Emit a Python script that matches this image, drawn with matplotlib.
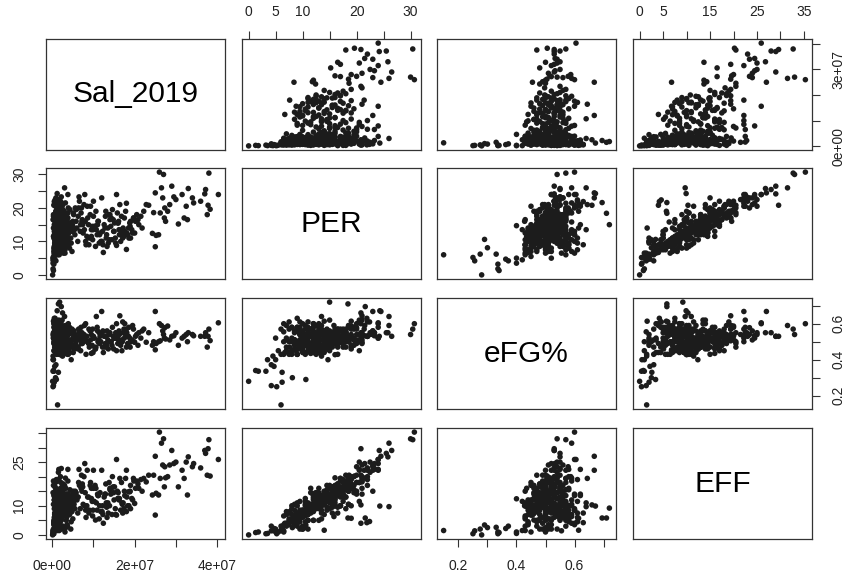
import numpy as np
import matplotlib.pyplot as plt

plt.rcParams['font.family'] = ['Liberation Sans', 'DejaVu Sans']

names = ["Sal_2019", "PER", "eFG%", "EFF"]

# salary in millions, one entry per player (stars, mid, outliers, bulk)
sal = [40.3, 38.0, 37.6, 38.3, 37.8, 37.0, 37.2, 34.0, 33.0, 32.5,
       32.8, 32.0, 31.5, 30.6, 29.5, 28.0, 27.5, 27.2, 27.0, 27.3,
       26.8, 26.5, 26.0, 26.2, 25.8, 25.2, 25.0, 25.0, 24.6, 24.3,
       23.4, 22.8, 22.2, 34.3, 36.0, 29.0, 28.5, 30.0,
       6.0, 6.5, 7.0, 7.5, 8.0, 8.5, 9.0, 9.5, 10.0, 10.5,
       11.0, 11.5, 12.0, 12.4, 13.0, 13.5, 14.0, 14.5, 15.0, 15.6,
       15.6, 16.0, 16.4, 17.0, 17.5, 18.0, 18.0, 18.5, 19.0, 19.7,
       20.0, 20.5, 21.0, 21.5, 6.2, 6.8, 7.2, 7.9, 8.2, 8.8,
       9.2, 9.5, 10.0, 10.7, 11.2, 11.8, 12.6, 13.2, 13.8, 14.2,
       14.8, 15.3, 16.2, 16.8, 17.2, 17.8, 18.3, 18.8, 19.3, 20.2,
       6.4, 7.7, 8.6, 10.2, 12.2, 13.6, 14.6, 16.6, 19.0, 21.8,
       1.3, 0.2, 0.3, 0.5, 1.0, 0.8, 0.4, 0.2, 1.5, 0.6,
       0.9, 0.1, 0.3, 4.6, 2.0, 1.8, 1.5, 2.2, 1.2, 0.5,
       0.7, 0.9, 3.0, 2.5, 0.4, 1.1, 0.6, 3.8, 2.2, 0.3,
       1.5, 2.0, 0.8, 3.2, 1.1, 2.6, 4.1, 0.5, 1.9, 2.9,
       3.5, 1.4, 0.9, 2.3, 5.2, 1.7, 0.6, 2.8, 3.9, 1.2,
       4.5, 2.1, 0.3, 1.6, 3.3, 2.5, 1.0, 5.6, 0.7, 2.0,
       1.8, 3.0, 4.8, 1.3, 2.4, 0.4, 3.6, 1.5, 2.7, 5.0,
       0.9, 1.9, 3.1, 2.2, 4.3, 1.1, 2.6, 0.5, 3.8, 1.6,
       2.9, 1.4, 5.4, 2.0, 0.8, 3.4, 1.7, 4.0, 2.3, 1.2,
       3.7, 0.6, 2.5, 1.5, 4.6, 2.1, 1.0, 3.2, 5.8, 1.9,
       2.8, 0.4, 1.3, 3.5, 2.4, 4.4, 1.8, 0.7, 2.7, 3.0,
       1.4, 5.1, 2.2, 0.9, 3.9, 1.6, 2.6, 4.9, 1.1, 2.0,
       3.3, 0.5, 1.7, 2.9, 4.2, 1.3, 2.3, 3.6, 0.8, 1.5]

per = [24.0, 30.4, 18.0, 19.6, 20.8, 24.2, 25.5, 23.0, 25.8, 20.5,
       16.5, 17.0, 24.0, 15.2, 23.3, 19.0, 16.0, 17.0, 30.0, 20.0,
       23.0, 26.0, 30.7, 18.5, 12.0, 11.8, 8.4, 24.5, 18.6, 12.4,
       20.8, 21.0, 19.0, 21.5, 22.0, 26.5, 21.0, 22.5,
       14.0, 23.3, 18.5, 12.5, 16.0, 20.5, 11.0, 13.5, 17.5, 8.5,
       15.0, 12.0, 23.0, 6.7, 19.0, 14.0, 16.5, 10.5, 13.0, 24.0,
       8.8, 15.5, 21.0, 12.5, 17.0, 7.6, 21.4, 14.0, 16.0, 17.0,
       12.5, 18.0, 15.0, 17.5, 10.0, 13.0, 16.0, 24.0, 9.0, 15.0,
       18.0, 11.5, 22.0, 13.5, 16.0, 10.0, 15.0, 12.0, 18.0, 14.5,
       16.5, 11.0, 13.5, 17.5, 14.0, 19.0, 12.0, 15.5, 13.5, 16.0,
       20.0, 21.0, 17.0, 14.5, 13.0, 9.5, 19.5, 10.0, 11.0, 14.0,
       6.0, 5.2, 4.2, 6.2, 10.6, 8.1, 3.2, 1.8, 6.2, 4.7,
       4.2, 0.0, 1.3, 14.7, 16.0, 15.0, 18.4, 21.6, 24.3, 21.9,
       22.4, 19.0, 26.0, 20.8, 20.8, 15.8, 6.5, 24.0, 23.3, 14.0,
       11.0, 13.5, 9.0, 15.0, 12.0, 17.5, 14.0, 7.5, 10.5, 19.0,
       16.0, 8.5, 11.5, 13.0, 18.0, 10.0, 6.0, 14.5, 12.5, 9.5,
       15.5, 12.0, 5.0, 16.5, 11.0, 13.5, 8.0, 20.0, 10.0, 14.0,
       12.5, 18.5, 13.0, 9.0, 15.0, 7.0, 11.5, 21.0, 12.0, 16.0,
       10.5, 14.5, 9.5, 17.0, 13.0, 11.5, 19.5, 8.5, 14.0, 12.0,
       15.5, 10.0, 13.5, 22.0, 9.0, 12.5, 16.5, 11.0, 13.0, 7.5,
       14.5, 10.5, 18.0, 12.0, 15.0, 9.5, 13.5, 11.0, 16.0, 14.0,
       10.0, 8.0, 12.5, 17.5, 11.5, 13.0, 15.5, 9.0, 19.0, 12.0,
       11.0, 14.0, 10.5, 16.0, 13.5, 7.0, 12.0, 15.0, 18.0, 10.0,
       13.0, 6.5, 11.5, 14.5, 9.5, 16.5, 12.5, 10.0, 20.5, 8.0]

efg = [0.605, 0.57, 0.47, 0.506, 0.53, 0.53, 0.55, 0.54, 0.55, 0.54,
       0.50, 0.53, 0.52, 0.48, 0.533, 0.587, 0.515, 0.52, 0.54, 0.578,
       0.56, 0.59, 0.60, 0.505, 0.50, 0.49, 0.455, 0.668, 0.50, 0.48,
       0.55, 0.497, 0.57, 0.533, 0.53, 0.53, 0.51, 0.55,
       0.52, 0.55, 0.58, 0.50, 0.53, 0.50, 0.47, 0.54, 0.52, 0.46,
       0.56, 0.49, 0.668, 0.44, 0.53, 0.51, 0.55, 0.48, 0.52, 0.60,
       0.45, 0.54, 0.644, 0.50, 0.52, 0.47, 0.57, 0.53, 0.50, 0.57,
       0.497, 0.54, 0.55, 0.52, 0.46, 0.51, 0.55, 0.52, 0.43, 0.49,
       0.56, 0.435, 0.53, 0.64, 0.51, 0.50, 0.53, 0.48, 0.55, 0.50,
       0.53, 0.52, 0.56, 0.51, 0.55, 0.54, 0.49, 0.52, 0.51, 0.53,
       0.57, 0.54, 0.50, 0.52, 0.47, 0.46, 0.58, 0.48, 0.50, 0.56,
       0.149, 0.25, 0.256, 0.275, 0.29, 0.30, 0.336, 0.336, 0.33, 0.363,
       0.372, 0.28, 0.34, 0.40, 0.428, 0.72, 0.71, 0.695, 0.672, 0.63,
       0.61, 0.614, 0.64, 0.66, 0.60, 0.59, 0.555, 0.58, 0.55, 0.614,
       0.53, 0.47, 0.58, 0.50, 0.44, 0.55, 0.49, 0.61, 0.52, 0.46,
       0.56, 0.51, 0.48, 0.59, 0.53, 0.45, 0.57, 0.50, 0.43, 0.54,
       0.49, 0.60, 0.52, 0.47, 0.55, 0.42, 0.58, 0.51, 0.54, 0.48,
       0.46, 0.53, 0.57, 0.50, 0.62, 0.52, 0.45, 0.49, 0.56, 0.51,
       0.59, 0.47, 0.54, 0.50, 0.44, 0.57, 0.52, 0.55, 0.48, 0.60,
       0.51, 0.56, 0.46, 0.53, 0.58, 0.49, 0.43, 0.54, 0.50, 0.57,
       0.48, 0.52, 0.55, 0.45, 0.51, 0.61, 0.47, 0.53, 0.50, 0.56,
       0.54, 0.58, 0.49, 0.52, 0.46, 0.55, 0.50, 0.63, 0.48, 0.53,
       0.57, 0.44, 0.51, 0.49, 0.56, 0.59, 0.53, 0.47, 0.52, 0.55,
       0.50, 0.60, 0.54, 0.46, 0.58, 0.51, 0.48, 0.55, 0.45, 0.52]

eff = [25.9, 32.7, 20.5, 20.2, 29.6, 29.0, 28.0, 23.4, 26.8, 25.0,
       13.7, 19.4, 22.2, 16.5, 24.5, 20.0, 19.6, 16.5, 33.0, 23.4,
       24.0, 31.5, 35.3, 19.4, 13.7, 14.3, 6.8, 27.0, 20.5, 13.7,
       20.5, 18.2, 19.4, 24.5, 23.0, 29.0, 24.0, 25.0,
       12.0, 22.5, 16.0, 10.5, 14.5, 22.2, 8.5, 12.5, 16.0, 5.1,
       14.0, 10.0, 22.2, 4.0, 17.5, 11.0, 15.5, 7.0, 12.0, 25.9,
       6.8, 14.5, 19.4, 10.5, 15.0, 8.0, 22.2, 14.8, 17.0, 19.4,
       10.8, 18.5, 16.0, 19.0, 7.5, 9.0, 15.0, 24.5, 6.0, 13.0,
       17.0, 16.0, 22.2, 11.0, 13.5, 8.0, 13.0, 9.5, 18.0, 14.0,
       16.5, 9.0, 12.0, 18.0, 11.0, 19.4, 10.0, 14.8, 12.5, 16.0,
       18.0, 20.0, 13.0, 11.5, 10.0, 7.5, 20.0, 8.5, 9.0, 15.0,
       1.5, 0.4, 1.4, 2.0, 3.4, 2.5, 0.4, 1.0, 2.6, 2.2,
       3.0, 0.0, 0.8, 12.4, 10.0, 9.2, 5.8, 5.8, 9.9, 4.2,
       4.6, 5.7, 9.7, 10.3, 4.0, 6.3, 1.4, 22.5, 22.8, 1.6,
       8.0, 10.5, 6.0, 12.0, 9.5, 15.0, 11.0, 4.5, 8.0, 16.0,
       14.0, 5.5, 9.0, 10.5, 13.0, 7.5, 3.0, 12.0, 10.0, 6.5,
       13.0, 8.5, 2.0, 14.0, 7.0, 11.5, 5.0, 15.0, 6.5, 12.5,
       9.0, 17.0, 11.0, 6.5, 13.5, 3.5, 8.0, 18.5, 10.0, 14.5,
       7.0, 12.5, 7.0, 15.5, 9.5, 9.5, 17.0, 6.0, 12.0, 9.0,
       12.0, 8.0, 12.0, 20.0, 5.5, 11.0, 15.0, 8.5, 12.0, 5.0,
       13.0, 7.5, 16.5, 10.5, 12.5, 6.0, 10.0, 9.0, 13.5, 11.5,
       7.0, 4.5, 9.5, 14.0, 10.0, 11.0, 14.0, 7.5, 17.5, 10.0,
       8.0, 11.0, 8.5, 13.0, 11.0, 4.0, 9.0, 13.0, 15.5, 7.5,
       10.0, 3.5, 9.0, 12.5, 7.0, 14.5, 10.5, 8.0, 18.0, 5.5]

# bench players on small contracts
sal_bench = [0.6, 1.2, 2.4, 0.3, 3.1, 1.7, 0.9, 4.2, 2.0, 1.4,
             2.8, 0.5, 1.9, 3.6, 1.0, 2.3, 0.7, 4.7, 1.5, 2.6,
             0.4, 3.3, 1.8, 2.1, 0.8, 1.3, 3.8, 2.5, 0.2, 1.6,
             4.0, 1.1, 2.9, 0.6, 2.2, 3.4, 1.4, 0.9, 2.7, 4.4,
             1.7, 0.3, 2.0, 3.0, 1.2, 0.5, 2.4, 3.7, 1.9, 0.8,
             2.6, 1.0, 4.8, 1.5, 0.4, 3.2, 2.1, 1.3, 0.7, 2.8,
             3.5, 1.6, 0.2, 2.3, 1.1, 4.1, 0.9, 2.0, 3.9, 1.4,
             0.6, 2.5, 1.8, 3.3, 0.3, 1.2, 2.9, 4.5, 1.0, 2.2,
             0.5, 1.7, 3.6, 2.4, 0.8, 1.5, 4.3, 2.7, 1.1, 0.4,
             3.0, 1.9, 0.7, 2.1, 3.8, 1.3, 0.6, 2.6, 1.6, 5.0,
             0.9, 2.0, 3.4, 1.2, 0.3, 2.8, 1.8, 4.6, 1.0, 2.3,
             0.5, 1.4, 3.1, 2.5, 0.8, 1.7, 3.7, 0.2, 2.2, 1.1]

per_bench = [9.5, 14.0, 11.0, 17.5, 6.5, 12.5, 19.0, 8.0, 15.5, 10.5,
             13.0, 21.0, 7.0, 16.0, 11.5, 18.5, 9.0, 14.5, 22.5, 12.0,
             5.5, 15.0, 10.0, 20.0, 13.5, 8.5, 17.0, 11.0, 3.5, 16.5,
             12.5, 19.5, 9.5, 14.0, 7.5, 18.0, 10.5, 23.0, 13.0, 15.5,
             6.0, 11.5, 16.0, 8.5, 20.5, 12.0, 14.5, 9.0, 17.5, 10.0,
             13.5, 18.5, 7.0, 15.0, 11.0, 21.5, 8.0, 16.5, 12.5, 14.0,
             10.0, 19.0, 4.5, 13.0, 17.0, 9.5, 15.5, 11.5, 20.0, 8.0,
             12.0, 16.0, 14.5, 10.5, 18.0, 7.5, 13.5, 11.0, 22.0, 9.0,
             15.0, 12.5, 8.5, 17.5, 10.0, 14.0, 19.5, 6.5, 13.0, 16.5,
             11.5, 9.0, 15.5, 12.0, 18.5, 10.5, 14.5, 7.0, 20.5, 13.5,
             8.5, 16.0, 11.0, 14.0, 5.0, 17.0, 12.5, 9.5, 15.0, 10.0,
             13.0, 18.0, 7.5, 11.5, 21.0, 14.5, 9.0, 16.5, 12.0, 10.5]

efg_bench = [0.51, 0.47, 0.50, 0.52, 0.50, 0.49, 0.52, 0.50, 0.47, 0.50,
             0.48, 0.62, 0.45, 0.50, 0.53, 0.50, 0.49, 0.55, 0.54, 0.51,
             0.45, 0.49, 0.54, 0.54, 0.46, 0.50, 0.56, 0.45, 0.40, 0.57,
             0.46, 0.58, 0.47, 0.56, 0.43, 0.55, 0.52, 0.56, 0.44, 0.55,
             0.43, 0.53, 0.50, 0.48, 0.61, 0.45, 0.54, 0.46, 0.57, 0.44,
             0.54, 0.53, 0.51, 0.48, 0.50, 0.59, 0.43, 0.57, 0.49, 0.46,
             0.53, 0.52, 0.42, 0.52, 0.50, 0.51, 0.53, 0.44, 0.60, 0.45,
             0.47, 0.57, 0.47, 0.50, 0.55, 0.44, 0.57, 0.48, 0.61, 0.43,
             0.54, 0.49, 0.51, 0.49, 0.51, 0.48, 0.57, 0.43, 0.55, 0.49,
             0.44, 0.49, 0.55, 0.48, 0.59, 0.44, 0.51, 0.47, 0.62, 0.48,
             0.51, 0.50, 0.47, 0.56, 0.40, 0.56, 0.53, 0.47, 0.47, 0.49,
             0.49, 0.57, 0.50, 0.46, 0.55, 0.57, 0.43, 0.54, 0.52, 0.43]

eff_bench = [2.0, 14.0, 7.0, 18.5, 1.0, 9.5, 10.0, 7.0, 10.5, 12.5,
             11.0, 14.0, 7.0, 11.0, 14.5, 10.5, 6.0, 8.5, 21.5, 8.0,
             1.0, 16.0, 2.0, 18.0, 7.5, 8.5, 10.0, 10.0, 0.5, 7.5,
             12.5, 15.5, 11.5, 7.0, 5.5, 13.0, 11.5, 15.0, 12.0, 9.5,
             1.5, 10.5, 12.0, 10.5, 11.5, 12.0, 9.5, 10.0, 11.5, 7.0,
             12.5, 10.5, 8.0, 11.0, 5.0, 19.5, 10.0, 9.5, 9.5, 14.0,
             6.0, 19.0, 1.5, 16.0, 10.0, 8.5, 7.5, 9.5, 14.0, 9.0,
             13.0, 10.0, 12.5, 2.5, 17.0, 3.5, 13.5, 2.0, 19.0, 11.0,
             9.0, 14.5, 3.5, 16.5, 3.0, 12.0, 15.5, 6.5, 5.0, 13.5,
             9.5, 4.0, 16.5, 5.0, 18.5, 4.5, 13.5, 3.0, 22.5, 5.5,
             5.5, 16.0, 5.0, 13.0, 1.0, 10.0, 13.5, 4.5, 13.0, 2.0,
             12.0, 9.0, 7.5, 7.5, 16.0, 15.5, 3.0, 14.5, 5.0, 10.5]

# rotation players on mid-size contracts
sal_rot = [5.5, 7.3, 9.8, 12.8, 15.8, 18.6, 6.9, 11.4, 14.3, 17.6,
           5.8, 8.4, 10.4, 13.3, 16.1, 19.5, 7.1, 9.9, 12.1, 15.1,
           6.3, 8.9, 11.6, 14.0, 17.1, 20.8, 5.3, 9.3, 13.9, 16.9,
           7.4, 10.9, 12.9, 15.4, 18.9, 6.6, 8.1, 11.1, 14.9, 17.4,
           5.1, 9.7, 12.3, 16.3, 19.8, 7.8, 10.6, 13.1, 15.9, 18.1]

per_rot = [12.0, 16.5, 10.5, 14.0, 18.5, 11.0, 15.0, 9.5, 17.0, 13.0,
           19.5, 11.5, 14.5, 8.5, 16.0, 12.5, 20.0, 13.5, 10.0, 15.5,
           17.5, 9.0, 12.5, 18.0, 11.0, 16.5, 14.0, 20.5, 10.5, 13.5,
           15.0, 12.0, 17.5, 9.5, 14.5, 22.0, 10.0, 16.0, 13.0, 11.5,
           18.5, 14.5, 9.0, 12.0, 17.0, 13.5, 19.0, 11.0, 15.5, 12.5]

efg_rot = [0.54, 0.49, 0.57, 0.47, 0.52, 0.58, 0.45, 0.55, 0.50, 0.60,
           0.48, 0.53, 0.46, 0.56, 0.51, 0.59, 0.49, 0.44, 0.55, 0.52,
           0.47, 0.57, 0.53, 0.50, 0.61, 0.48, 0.56, 0.51, 0.54, 0.45,
           0.52, 0.58, 0.49, 0.55, 0.47, 0.53, 0.60, 0.50, 0.46, 0.57,
           0.51, 0.48, 0.56, 0.54, 0.50, 0.59, 0.47, 0.53, 0.49, 0.55]

eff_rot = [9.0, 17.5, 6.5, 14.0, 15.0, 10.0, 17.0, 5.5, 16.0, 13.5,
           14.5, 10.0, 17.0, 6.0, 12.5, 12.0, 20.5, 8.5, 8.0, 16.5,
           13.0, 7.5, 14.5, 16.0, 7.5, 17.5, 10.5, 18.0, 10.0, 11.0,
           16.5, 8.5, 14.0, 7.0, 15.0, 17.0, 8.5, 13.5, 14.5, 9.0,
           15.0, 11.5, 7.0, 12.5, 18.5, 10.0, 16.0, 11.0, 12.5, 13.0]

# tick positions and the labels R managed to fit
sal_ticks = [0, 1e7, 2e7, 3e7, 4e7]
per_ticks = [0, 5, 10, 15, 20, 25, 30]
efg_ticks = [0.2, 0.3, 0.4, 0.5, 0.6, 0.7]
eff_ticks = [0, 5, 10, 15, 20, 25, 30, 35]

sal_bottom = ["0e+00", "", "2e+07", "", "4e+07"]
sal_right = ["0e+00", "", "", "3e+07", ""]
per_top = ["0", "5", "10", "", "20", "", "30"]
per_left = ["0", "", "10", "", "20", "", "30"]
efg_labels = ["0.2", "", "0.4", "", "0.6", ""]
eff_top = ["0", "5", "", "15", "", "25", "", "35"]
eff_left = ["0", "", "10", "", "", "25", "", ""]

vals = [np.array(sal + sal_bench + sal_rot) * 1e6,
        np.array(per + per_bench + per_rot),
        np.array(efg + efg_bench + efg_rot),
        np.array(eff + eff_bench + eff_rot)]

def rlim(v):
   lo, hi = v.min(), v.max()
   d = (hi - lo) * 0.04
   return lo - d, hi + d

W, H = 846, 577
fig = plt.figure(figsize=(W / 100, H / 100), dpi=100)

lefts = [46, 242, 437, 633]
tops = [39, 168, 298, 428]
pw, ph = 179, 111
ink = "#1c1c1c"

axes = {}
for i in range(4):
   for j in range(4):
      ax = fig.add_axes([lefts[j] / W, 1 - (tops[i] + ph) / H, pw / W, ph / H])
      axes[i, j] = ax
      ax.set_xlim(*rlim(vals[j]))
      ax.set_ylim(*rlim(vals[i]))
      ax.set_xticks([])
      ax.set_yticks([])
      for s in ax.spines.values():
         s.set_linewidth(0.9)
         s.set_color("#333333")
      if i == j:
         ax.text(0.5, 0.5, names[i], transform=ax.transAxes, ha="center",
                 va="center", fontsize=21.5, color="black")
      else:
         ax.scatter(vals[j], vals[i], s=16, color=ink, edgecolors="none")
      ax.tick_params(direction="out", length=5.8, width=0.8, color="#333333",
                     pad=8.5, labelsize=10, labelcolor="#222222")

# top axes
ax = axes[0, 1]
ax.xaxis.tick_top()
ax.set_xticks(per_ticks, per_top)
ax = axes[0, 3]
ax.xaxis.tick_top()
ax.set_xticks(eff_ticks, eff_top)

# bottom axes
axes[3, 0].set_xticks(sal_ticks, sal_bottom)
axes[3, 2].set_xticks(efg_ticks, efg_labels)

# left axes
axes[1, 0].set_yticks(per_ticks, per_left, rotation=90, va="center")
axes[3, 0].set_yticks(eff_ticks, eff_left, rotation=90, va="center")

# right axes
ax = axes[0, 3]
ax.yaxis.tick_right()
ax.set_yticks(sal_ticks, sal_right, rotation=90, va="center")
ax = axes[2, 3]
ax.yaxis.tick_right()
ax.set_yticks(efg_ticks, efg_labels, rotation=90, va="center")

fig.savefig("out.png", dpi=100, facecolor="white")
